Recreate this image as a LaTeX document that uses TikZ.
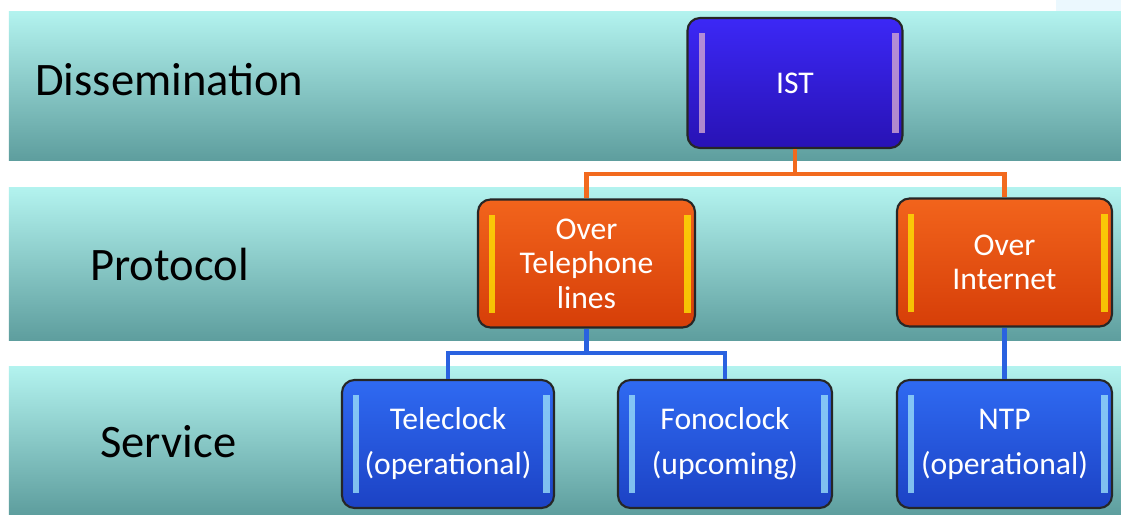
\documentclass[tikz,border=0pt]{standalone}
\usepackage{fontspec}
\setmainfont{Carlito}
\definecolor{bandtop}{HTML}{B3F3EF}
\definecolor{bandmid}{HTML}{9CDCDA}
\definecolor{bandbot}{HTML}{5E9E9E}
\definecolor{isttop}{HTML}{3C28F6}
\definecolor{istbot}{HTML}{2812B4}
\definecolor{ortop}{HTML}{F2641C}
\definecolor{orbot}{HTML}{D63E08}
\definecolor{bltop}{HTML}{2F6AF2}
\definecolor{blbot}{HTML}{1C42C4}
\definecolor{orline}{HTML}{F26A1E}
\definecolor{blline}{HTML}{2A62E0}
\begin{document}
\begin{tikzpicture}[scale=0.2]
		\tikzstyle{every node}+=[inner sep=0pt]
		\tikzstyle{band}=[top color=bandtop, middle color=bandmid, bottom color=bandbot]
		\tikzstyle{layer}=[anchor=west, text=black, font=\fontsize{26.5}{30}\selectfont]
		\tikzset{bars/.style={path picture={
			\fill[#1, opacity=0.8, sharp corners] ([xshift=0.22cm,yshift=-0.3cm]path picture bounding box.north west) rectangle ([xshift=0.34cm,yshift=0.3cm]path picture bounding box.south west);
			\fill[#1, opacity=0.8, sharp corners] ([xshift=-0.08cm,yshift=-0.3cm]path picture bounding box.north east) rectangle ([xshift=-0.22cm,yshift=0.3cm]path picture bounding box.south east);}}}
		\tikzstyle{box}=[rectangle, rounded corners=0.25cm, draw=black!85, line width=1.2pt, minimum width=4.3cm, minimum height=2.56cm, align=center, text=white, font=\fontsize{18}{19.6}\selectfont]
		\tikzstyle{istbox}=[box, top color=isttop, bottom color=istbot, bars=violet!35, minimum height=2.6cm]
		\tikzstyle{orbox}=[box, top color=ortop, bottom color=orbot, bars=yellow!85!orange]
		\tikzstyle{blbox}=[box, top color=bltop, bottom color=blbot, bars=cyan!40!white]
		\tikzstyle{orwire}=[orline, line width=2.3pt]
		\tikzstyle{blwire}=[blline, line width=2.3pt]
		\useasboundingbox (0,0) rectangle (112.1,-51.4);
		\fill [white] (0,0) rectangle (112.1,-51.4);
		\fill [cyan!8] (105.6,0) rectangle (112.1,-1.1);
		\shade [band] (0.9,-1.1) rectangle (112.1,-16.0);
		\shade [band] (0.9,-18.7) rectangle (112.1,-34.0);
		\shade [band] (0.9,-36.6) rectangle (112.1,-51.4);
		\node [layer] (dis) at (3.5,-8.0) {Dissemination};
		\node [layer] (pro) at (9.0,-26.4) {Protocol};
		\node [layer] (ser) at (10.0,-44.2) {Service};
		\node [istbox] (ist) at (79.5,-8.3) {IST};
		\node [orbox, minimum width=4.34cm] (tel) at (58.65,-26.35) {Over\\Telephone\\lines};
		\node [orbox] (inet) at (100.45,-26.25) {Over\\Internet};
		\node [blbox, minimum width=4.24cm] (tele) at (44.8,-44.4) {Teleclock\\[6pt](operational)};
		\node [blbox, minimum width=4.28cm] (fono) at (72.5,-44.4) {Fonoclock\\[6pt](upcoming)};
		\node [blbox] (ntp) at (100.45,-44.4) {NTP\\[6pt](operational)};
		\draw [orwire] (ist.south) -- ++(0,-2.5) -| (tel.north);
		\draw [orwire] (ist.south) -- ++(0,-2.5) -| (inet.north);
		\draw [blwire] (tel.south) -- ++(0,-2.4) -| (tele.north);
		\draw [blwire] (tel.south) -- ++(0,-2.4) -| (fono.north);
		\draw [blwire] (inet.south) -- (ntp.north);
	\end{tikzpicture}
\end{document}
